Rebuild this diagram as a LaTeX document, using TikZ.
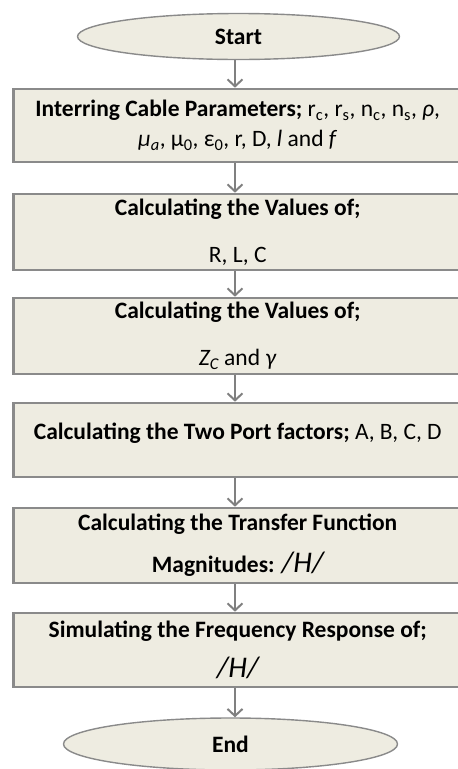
\documentclass[tikz,border=0pt]{standalone}
\usepackage{fontspec}
\setmainfont{Carlito}
\usepackage{xcolor}
\usetikzlibrary{arrows.meta,positioning,shapes.geometric}

\definecolor{boxfill}{HTML}{EEECE1}
\definecolor{boxline}{HTML}{8A8A8A}
\definecolor{arrowgray}{HTML}{808080}

\newcommand{\magH}{{\mdseries\itshape\fontsize{30}{32}\selectfont /H/}}

\tikzset{
  stepbox/.style={draw=boxline,line width=2.6pt,fill=boxfill,minimum width=448.5pt,
    align=center,inner sep=0pt,font=\fontsize{23.5}{28}\selectfont\bfseries},
  termnode/.style={ellipse,draw=boxline,line width=1.4pt,fill=boxfill,inner sep=0pt,
    font=\fontsize{23.5}{28}\selectfont\bfseries},
  flowarrow/.style={draw=arrowgray,line width=2pt,
    -{Straight Barb[length=7pt,width=15pt,line width=2pt]}}
}

\begin{document}
\begin{tikzpicture}[x=1pt,y=-1pt]
  \useasboundingbox (0,0) rectangle (458,769);
  \coordinate (spine) at (235,0);

  \node[termnode,minimum width=322pt,minimum height=46pt] (start) at (238.5,36.5) {Start};
  \node[stepbox,minimum height=73pt] (params) at (237.75,125.5)
    {Interring Cable Parameters; {\mdseries r\textsubscript{c}, r\textsubscript{s}, n\textsubscript{c}, n\textsubscript{s}, \textit{ρ},}\\[2pt]
     {\mdseries \textit{μ\textsubscript{a}}, μ\textsubscript{0}, ε\textsubscript{0}, r, D, \textit{l} and \textit{f}}};
  \node[stepbox,minimum height=76pt] (rlc) at (237.75,232)
    {Calculating the Values of;\\[19pt] {\mdseries R, L, C}};
  \node[stepbox,minimum height=76pt] (zgamma) at (237.75,336)
    {Calculating the Values of;\\[19pt] {\mdseries\itshape Z\textsubscript{C}} {\mdseries and \textit{γ}}};
  \node[stepbox,minimum height=74pt,text height=17pt,text depth=19pt] (ports) at (237.75,440)
    {Calculating the Two Port factors; {\mdseries A, B, C, D}};
  \node[stepbox,minimum height=75pt] (transfer) at (237.75,545.5)
    {Calculating the Transfer Function\\[14pt] Magnitudes: \magH};
  \node[stepbox,minimum height=74pt] (simulate) at (237.75,650)
    {Simulating the Frequency Response of;\\[12pt] \magH};
  \node[termnode,minimum width=334pt,minimum height=52pt] (end) at (230.5,744) {End};

  % arrows down the chart
  \foreach \a/\b in {start/params,params/rlc,rlc/zgamma,zgamma/ports,ports/transfer,transfer/simulate,simulate/end}
    \draw[flowarrow] (\a.south -| spine) -- (\b.north -| spine);
\end{tikzpicture}
\end{document}
